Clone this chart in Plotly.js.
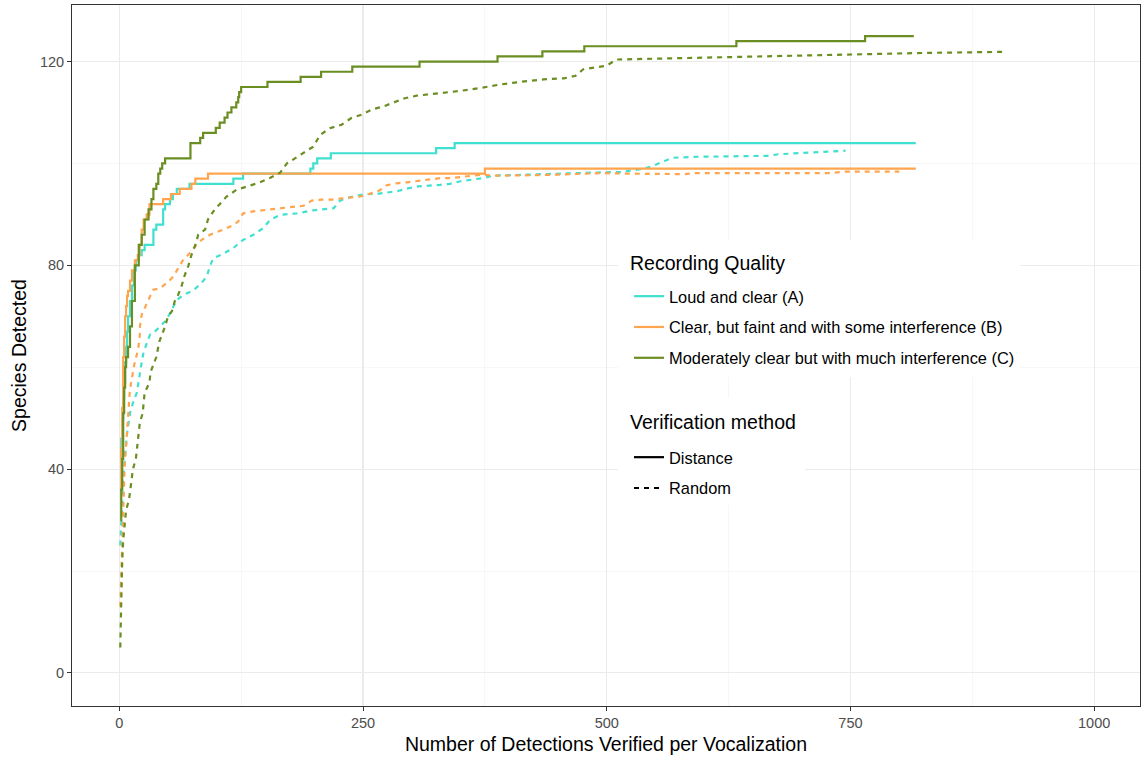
<!DOCTYPE html>
<html>
<head>
<meta charset="utf-8">
<script src="https://cdn.plot.ly/plotly-3.0.1.min.js"></script>
<style>
  html, body { margin: 0; padding: 0; background: #fff; }
  #chart { width: 1142px; height: 759px; }
</style>
</head>
<body>
<div id="chart"></div>
<script>
// ---------- Data ----------
// Recording quality A (Loud and clear) - Distance
var xA_dist = [1, 2, 3, 4, 5, 6, 7, 8, 9, 11, 13, 15, 17, 20, 23, 26, 35, 38, 45, 47, 52, 55, 59, 72, 117, 127, 196, 199, 203, 217, 325, 344, 817];
var yA_dist = [42, 46, 50, 54, 57, 61, 64, 67, 70, 73, 76, 79, 81, 82, 83, 84, 87, 88, 91, 92, 93, 94, 95, 96, 97, 98, 99, 100, 101, 102, 103, 104, 104];
// Recording quality A - Random
var xA_rand = [1, 2, 3, 4, 6, 8, 11, 14, 18, 19.5, 21, 23, 25, 28, 31.5, 35, 43.5, 48.6, 53.8, 59, 65.7, 74.3, 82.8, 89.7, 93, 96.4, 105, 117, 127, 137.5, 147.7, 154.6, 165, 182, 199, 220, 225, 230, 242, 252, 264, 274, 286, 296, 307, 329, 339, 350, 362, 372, 384, 428, 459, 504, 514, 526, 536, 546, 556, 567, 589, 644, 666, 676, 698, 721, 745];
var yA_rand = [25, 30, 34, 38, 43, 47, 51, 53, 55, 57, 59, 61, 63, 64.7, 66.4, 66.7, 68.3, 69.3, 71.3, 73.2, 74.2, 74.9, 76.2, 77.8, 79.8, 81.4, 82.1, 83.4, 85, 86, 87.3, 88.9, 89.9, 90.2, 90.8, 91.2, 92.5, 93, 93.6, 94, 94, 94.3, 94.6, 95.1, 95.5, 95.8, 96, 96.5, 96.8, 97.1, 97.6, 97.9, 98.1, 98.3, 98.3, 98.6, 98.9, 99.4, 100.2, 101.1, 101.3, 101.5, 101.5, 101.8, 102, 102.3, 102.5];

// Recording quality B (Clear, but faint...) - Distance
var xB_dist = [1, 2, 3, 4, 5, 6, 7, 8, 9, 11, 13, 16, 19, 21, 23, 25, 28, 31, 45, 53, 62, 74, 78, 91, 375, 817];
var yB_dist = [36, 44, 52, 62, 66, 70, 72, 74, 75, 77, 79, 81, 82, 84, 87, 89, 90, 92, 93, 94, 95, 96, 97, 98, 99, 99];
// Recording quality B - Random
var xB_rand = [1, 1.5, 2, 2.5, 3, 3.5, 4, 4.5, 5.5, 7, 9, 10.7, 12.3, 15.7, 19.2, 20.9, 21.2, 23, 31.5, 34.9, 41.8, 50.3, 55.4, 60.5, 65.6, 72.5, 77.7, 84.5, 93, 106.7, 117, 122, 123.8, 127.2, 137.5, 151.2, 164.9, 178.5, 189, 197.4, 207.7, 218, 229.8, 240, 250, 257, 267, 274, 284, 295, 307, 317, 329, 339, 350, 361, 372, 384, 404, 416, 428, 449, 473, 493, 520, 558, 580, 591, 650, 727, 745, 800];
var yB_rand = [13, 16, 19, 23, 27, 30, 35, 38, 40.5, 44.5, 51, 55, 57.2, 60.8, 63.4, 65.8, 68, 70.3, 73.9, 75.2, 75.5, 76.8, 77.8, 79.5, 81.1, 82.4, 83.7, 85, 86, 87, 87.9, 88.6, 89.3, 90.2, 90.6, 90.9, 91.2, 91.5, 91.7, 92.7, 92.9, 92.9, 93.1, 93.4, 93.6, 94, 94.7, 95.7, 96.1, 96.3, 96.6, 96.8, 97.1, 97.1, 97.3, 97.6, 97.8, 97.6, 97.6, 97.7, 97.7, 97.8, 98, 98.1, 98, 97.9, 97.9, 98.1, 98.1, 98.1, 98.4, 98.4];

// Recording quality C (Moderately clear...) - Distance
var xC_dist = [1, 2, 3, 4, 5, 6, 7, 9, 11, 13, 16, 20, 23, 26, 30, 33, 35, 38, 40, 42, 44, 47, 73, 83, 86, 99, 103, 108, 111, 115, 120, 122, 123, 125, 152, 186, 207, 239, 308, 388, 434, 477, 633, 765, 815];
var yC_dist = [30, 36, 42, 51, 56, 60, 62, 64, 68, 73, 80, 84, 86, 89, 91, 93, 95, 96, 98, 99, 100, 101, 104, 105, 106, 107, 108, 109, 110, 111, 112, 113, 114, 115, 116, 117, 118, 119, 120, 121, 122, 123, 124, 125, 125];
// Recording quality C - Random
var xC_rand = [1, 1.5, 2, 3, 4, 5.5, 7, 10, 12, 14, 17, 19, 21, 24, 26, 31, 32, 38, 41, 47, 50, 54, 57, 60, 64, 67, 71, 74, 78, 81, 88, 91, 98, 103, 110, 120, 132, 143, 155, 165, 172, 180, 199, 206, 216, 228, 238, 249, 259, 271, 283, 293, 305, 326, 348, 370, 391, 411, 435, 456, 468, 476, 486, 500, 510, 558, 630, 698, 763, 828, 907];
var yC_rand = [5, 11, 16, 22, 26, 30, 32, 34, 37, 40, 42, 46, 49, 51, 55, 57, 59, 62, 65, 68, 70, 71, 73, 74, 76, 78, 80, 82, 84, 86, 87, 89, 91, 92, 93.5, 94.8, 95.5, 96.2, 97.2, 98.2, 100, 101, 103.3, 105.6, 106.9, 107.6, 108.9, 109.6, 110.6, 111.2, 112, 112.8, 113.3, 113.7, 114.2, 114.8, 115.5, 116, 116.5, 116.7, 117.2, 118.5, 118.8, 119.2, 120.4, 120.6, 120.9, 121.2, 121.4, 121.7, 121.9];

var qualityNames = ["Loud and clear (A)", "Clear, but faint and with some interference (B)", "Moderately clear but with much interference (C)"];
var methodNames = ["Distance", "Random"];
var legendTitles = ["Recording Quality", "Verification method"];
var xTicks = [0, 250, 500, 750, 1000];
var yTicks = [0, 40, 80, 120];

// ---------- Styling ----------
var colA = "#40E0D0", colB = "#FFA54F", colC = "#6B8E23";
var LW = 2.2;
var DASH = "5px,5px";
var FONT = "Liberation Sans, Arial, sans-serif";

function curve(x, y, color, dashed) {
  return {
    type: "scatter", mode: "lines", x: x, y: y,
    line: { color: color, width: LW, dash: dashed ? DASH : "solid", shape: dashed ? "linear" : "hv" },
    showlegend: false, hoverinfo: "x+y"
  };
}
function legItem(name, color, dashed, legend, group) {
  return {
    type: "scatter", mode: "lines", x: [null], y: [null], name: name,
    line: { color: color, width: LW, dash: dashed ? DASH : "solid" },
    legend: legend, legendgroup: group, showlegend: true
  };
}

var traces = [
  curve(xA_dist, yA_dist, colA, false),
  curve(xA_rand, yA_rand, colA, true),
  curve(xB_dist, yB_dist, colB, false),
  curve(xB_rand, yB_rand, colB, true),
  curve(xC_dist, yC_dist, colC, false),
  curve(xC_rand, yC_rand, colC, true),
  legItem(qualityNames[0], colA, false, "legend", "qa"),
  legItem(qualityNames[1], colB, false, "legend", "qb"),
  legItem(qualityNames[2], colC, false, "legend", "qc"),
  legItem(methodNames[0], "#000000", false, "legend2", "md"),
  legItem(methodNames[1], "#000000", true, "legend2", "mr")
];

// pixel -> paper helpers for legend placement (plot area 72..1140 x 5..706)
function px(x) { return (x - 72) / 1068; }
function py(y) { return 1 - (y - 5) / 701; }

var legendCommon = {
  bgcolor: "rgba(0,0,0,0)", borderwidth: 0,
  font: { family: FONT, size: 16.4, color: "#000" },
  traceorder: "grouped", tracegroupgap: 6.5,
  xanchor: "left", yanchor: "top", itemwidth: 30
};

var layout = {
  width: 1142, height: 759,
  margin: { l: 72, r: 2, t: 5, b: 53 },
  paper_bgcolor: "#ffffff", plot_bgcolor: "#ffffff",
  font: { family: FONT },
  xaxis: {
    range: [-48.5, 1047], tickvals: xTicks, ticktext: xTicks.map(String),
    showgrid: true, gridcolor: "#EBEBEB", gridwidth: 1.1,
    minor: { tickvals: [125, 375, 625, 875], showgrid: true, gridcolor: "#F2F2F2", gridwidth: 0.6, ticks: "" },
    zeroline: false, showline: true, mirror: true, linecolor: "#333333", linewidth: 1,
    ticks: "outside", ticklen: 4, tickcolor: "#333333", tickwidth: 1,
    tickfont: { family: FONT, size: 14.5, color: "#4D4D4D" },
    title: { text: "Number of Detections Verified per Vocalization", font: { family: FONT, size: 19.5, color: "#000" }, standoff: 6 }
  },
  yaxis: {
    range: [-6.5, 131.1], tickvals: yTicks, ticktext: yTicks.map(String),
    showgrid: true, gridcolor: "#EBEBEB", gridwidth: 1.1,
    minor: { tickvals: [20, 60, 100], showgrid: true, gridcolor: "#F2F2F2", gridwidth: 0.6, ticks: "" },
    zeroline: false, showline: true, mirror: true, linecolor: "#333333", linewidth: 1,
    ticks: "outside", ticklen: 4, tickcolor: "#333333", tickwidth: 1,
    tickfont: { family: FONT, size: 14.5, color: "#4D4D4D" },
    title: { text: "Species Detected", font: { family: FONT, size: 19.5, color: "#000" }, standoff: 8 }
  },
  legend: Object.assign({}, legendCommon, { x: px(629), y: py(279) }),
  legend2: Object.assign({}, legendCommon, { x: px(629), y: py(440) }),
  shapes: [
    { type: "rect", xref: "paper", yref: "paper", x0: px(618), x1: px(1020), y0: py(240), y1: py(377),
      fillcolor: "#ffffff", line: { width: 0 }, layer: "above" },
    { type: "rect", xref: "paper", yref: "paper", x0: px(618), x1: px(805), y0: py(398), y1: py(505),
      fillcolor: "#ffffff", line: { width: 0 }, layer: "above" }
  ],
  annotations: [
    { xref: "paper", yref: "paper", x: px(628), y: py(263), xanchor: "left", yanchor: "middle", showarrow: false,
      text: legendTitles[0], font: { family: FONT, size: 19.5, color: "#000" } },
    { xref: "paper", yref: "paper", x: px(628), y: py(422), xanchor: "left", yanchor: "middle", showarrow: false,
      text: legendTitles[1], font: { family: FONT, size: 19.5, color: "#000" } }
  ],
  showlegend: true
};

Plotly.newPlot("chart", traces, layout, { displayModeBar: false, staticPlot: true });
</script>
</body>
</html>
